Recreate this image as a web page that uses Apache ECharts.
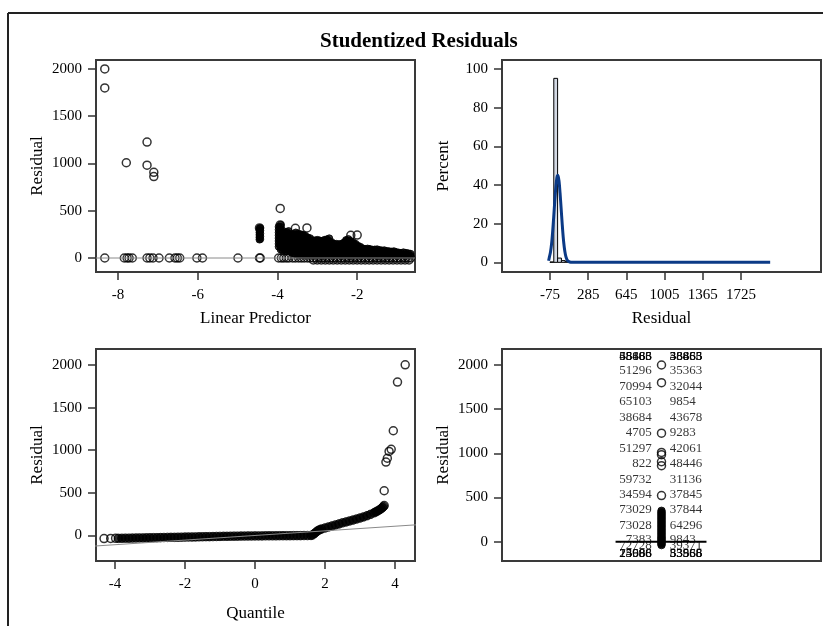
<!DOCTYPE html>
<html><head><meta charset="utf-8">
<script src="https://cdn.jsdelivr.net/npm/echarts@6/dist/echarts.min.js"></script>
<style>html,body{margin:0;padding:0;background:#fff}#c{width:823px;height:626px}</style>
</head><body><div id="c"></div>
<script>
const FONT = '"Liberation Serif","Times New Roman",serif';

// ---------- Panel 1: Residual vs Linear Predictor ----------
const tlTicksX = [-8, -6, -4, -2];
const tlTicksY = [0, 500, 1000, 1500, 2000];
const tlPoints = [[-8.33,2000],[-8.33,1800],[-8.33,0],[-7.79,1008],[-7.84,0],[-7.77,0],[-7.72,0],[-7.64,0],
  [-7.27,1227],[-7.27,982],[-7.27,0],[-7.2,0],[-7.12,0],[-7.1,907],[-7.1,862],[-6.97,0],
  [-6.71,0],[-6.57,0],[-6.51,0],[-6.45,0],[-6.02,0],[-5.88,0],[-4.99,0],[-4.45,0],[-4.43,0],
  [-3.93,525],[-3.93,350],[-3.55,315],[-3.26,318],[-2.16,240],[-2.0,243],[-4.45,318]];
const tlZeroX = [-3.97,-3.9,-3.84,-3.77,-3.71,-3.62,-3.55,-3.47,-3.4,-3.33,-3.25,-3.18,-3.1,-3.03,-2.96,-2.89,-2.82,-2.75,-2.68,-2.61,-2.54,-2.47,-2.4,-2.33,-2.26,-2.19,-2.12,-2.05,-1.98,-1.91,-1.84,-1.77,-1.7,-1.63,-1.56,-1.49,-1.42,-1.35,-1.28,-1.21,-1.14,-1.07,-1.0,-0.93,-0.86,-0.79,-0.72,-0.66];
const tlNegX = [-3.1,-3.0,-2.9,-2.8,-2.7,-2.6,-2.5,-2.4,-2.3,-2.2,-2.1,-2.0,-1.9,-1.8,-1.7,-1.6,-1.5,-1.4,-1.3,-1.2,-1.1,-1.0,-0.9,-0.8,-0.7];
const tlNegY = -20;
const tlColumns = [
  [-4.45,[195,220,245,270,295,312]],[-4.43,[200,230,260,290,318]],
  [-3.97,[120,150,180,210,240,270,300,330]],[-3.92,[90,120,150,180,210,240,270,300,330,350]],
  [-3.87,[80,110,140,170,200,230,260,290]],[-3.82,[90,120,150,180,210,240,265]],
  [-3.77,[70,100,130,160,190,220,250,275]],[-3.72,[80,110,140,170,200,230,260,285]],
  [-3.66,[60,90,120,150,180,210,240]],[-3.60,[50,80,110,140,170,200,230,255]],
  [-3.54,[40,70,100,130,160,190,220,250,270]],[-3.48,[35,65,95,125,155,185,215,245,258]],
  [-3.42,[30,60,90,120,150,180,210,240,252]],[-3.36,[30,60,90,120,150,180,210,240,246]],
  [-3.30,[30,60,90,120,150,180,210,235]],[-3.24,[30,60,90,120,150,180,210,218]],
  [-3.18,[30,60,90,120,150,180,210]],[-3.12,[30,60,90,120,150,180,188]],
  [-3.06,[30,60,90,120,150,180,186]],[-3.00,[30,60,90,120,150,180,192]],
  [-2.94,[30,60,90,120,150,180,186]],[-2.88,[30,60,90,120,150,180]],
  [-2.82,[30,60,90,120,150,180,192]],[-2.76,[30,60,90,120,150,180,198]],
  [-2.70,[30,60,90,120,150,180,208]],[-2.64,[30,60,90,120,150,168]],
  [-2.58,[30,60,90,120,150]],[-2.52,[30,60,90,120,150]],[-2.46,[30,60,90,120,146]],
  [-2.40,[30,60,90,120,150]],[-2.34,[30,60,90,120,150,162]],[-2.28,[30,60,90,120,150,180,190]],
  [-2.22,[30,60,90,120,150,180,200]],[-2.16,[30,60,90,120,150,180]],[-2.10,[30,60,90,120,150,165]],
  [-2.04,[30,60,90,120,150]],[-1.98,[30,60,90,120,130]],[-1.92,[30,60,90,118]],
  [-1.86,[30,60,90,102]],[-1.80,[30,60,90,96]],[-1.74,[30,60,90,100]],[-1.68,[30,60,90,95]],
  [-1.62,[30,60,88]],[-1.56,[30,60,90]],[-1.50,[30,60,92]],[-1.44,[30,60,85]],
  [-1.38,[30,60,80]],[-1.32,[30,60,82]],[-1.26,[30,60,75]],[-1.20,[30,60,72]],
  [-1.14,[30,60,68]],[-1.08,[30,60,72]],[-1.02,[30,60,62]],[-0.96,[30,58]],
  [-0.90,[30,55]],[-0.84,[30,60]],[-0.78,[30,55]],[-0.72,[30,50]],[-0.66,[25,45]]
];

// ---------- Panel 2: histogram of residuals ----------
const histTicksX = [-75, 285, 645, 1005, 1365, 1725];
const histTicksY = [0, 20, 40, 60, 80, 100];
const histBins = [[-75,-39,0.2],[-39,-3,95.2],[-3,33,2.2],[33,69,0.9],[69,105,0.4]];
const normCurve = [[-88,0.8],[-80,2.8],[-70,5.4],[-60,9.5],[-50,15.7],[-40,23.3],[-30,31.4],[-20,38.7],[-10,43.7],[0,45],
  [10,42.2],[20,35.9],[30,28.1],[40,20.1],[50,12.9],[60,7.7],[70,4.2],[80,2.1],[90,0.9],[110,0.2],[140,0],[2000,0]];

// ---------- Panel 3: Q-Q plot ----------
const qqTicksX = [-4, -2, 0, 2, 4];
const qqTicksY = [0, 500, 1000, 1500, 2000];
const qqRefLine = [[-4.6,-127],[4.6,123]];
const qqHollow = [[-4.31,-38],[-4.12,-37],[-3.98,-36],[3.69,523],[3.74,860],[3.78,905],[3.83,985],[3.89,1010],[3.95,1228],[4.07,1800],[4.29,2002],[3.69,350]];
const qqBand = [[-3.9,-36],[-3.8,-35],[-3.7,-34],[-3.6,-34],[-3.5,-33],[-3.4,-32],[-3.3,-31],[-3.2,-31],[-3.1,-30],[-3.0,-29],
  [-2.9,-28],[-2.8,-28],[-2.7,-27],[-2.6,-26],[-2.5,-25],[-2.4,-24],[-2.3,-24],[-2.2,-23],[-2.1,-22],[-2.0,-21],
  [-1.9,-20],[-1.8,-20],[-1.7,-19],[-1.6,-18],[-1.5,-17],[-1.4,-16],[-1.3,-16],[-1.2,-15],[-1.1,-14],[-1.0,-13],
  [-0.9,-12],[-0.8,-12],[-0.7,-11],[-0.6,-10],[-0.5,-10],[-0.4,-9],[-0.3,-9],[-0.2,-8],[-0.1,-8],[0,-7],
  [0.1,-7],[0.2,-7],[0.3,-6],[0.4,-6],[0.5,-6],[0.6,-6],[0.7,-5],[0.8,-5],[0.9,-5],[1.0,-5],
  [1.1,-4],[1.2,-4],[1.3,-4],[1.4,-3],[1.5,-3],[1.6,-2],[1.65,5],[1.7,22],[1.75,40],[1.8,55],
  [1.85,66],[1.9,74],[2.0,86],[2.1,98],[2.2,110],[2.3,122],[2.4,134],[2.5,146],[2.6,157],[2.7,168],
  [2.8,179],[2.9,191],[3.0,203],[3.1,216],[3.2,230],[3.3,246],[3.4,264],[3.45,275],[3.5,286],[3.55,298],
  [3.6,312],[3.64,325],[3.67,338]];

// ---------- Panel 4: labelled residual box plot ----------
const brTicksY = [0, 500, 1000, 1500, 2000];
const brOutliers = [2000, 1800, 1228, 1010, 985, 905, 860, 523];
const brColumn = [-38,-25,-12,0,12,25,38,50,65,80,95,110,125,140,155,170,185,200,215,230,245,260,275,290,305,320,335,350];
const brMedianLine = [[-0.288,0],[0.282,0]];
const brLabelY = [1933, 1755, 1582, 1404, 1231, 1053, 883, 707, 537, 359, 186, 19, -45];
const brLeftIds = ['51296','70994','65103','38684','4705','51297','822','59732','34594','73029','73028','7383','72728'];
const brRightIds = ['35363','32044','9854','43678','9283','42061','48446','31136','37845','37844','64296','9843','39371'];
const brTopGarbleY = 2100, brBotGarbleY = -138;
const brTopLeftGarble = ['58466','38683','45885','65168'];
const brTopRightGarble = ['48683','36465','58866','33853'];
const brBotLeftGarble = ['24588','15066','23988','75696'];
const brBotRightGarble = ['55865','33586','53558','83968'];
const brLabelX = [-0.061, 0.052];

// ---------- build ----------
const AX = '#333';
const plain = v => String(v);
function xA(grid, min, max, ticks, name, gap, show = true) {
  return {
    type: 'value', gridIndex: grid, min, max, position: 'bottom',
    axisLine: { show: false, onZero: false },
    axisTick: { show: show, length: 8, customValues: ticks, lineStyle: { color: AX, width: 1.5 } },
    axisLabel: { show: show, customValues: ticks, formatter: plain, margin: 16, color: '#000', fontFamily: FONT, fontSize: 15 },
    splitLine: { show: false },
    name, nameLocation: 'middle', nameGap: gap,
    nameTextStyle: { color: '#000', fontFamily: FONT, fontSize: 17 }
  };
}
function yA(grid, min, max, ticks, name) {
  return {
    type: 'value', gridIndex: grid, min, max, position: 'left',
    axisLine: { show: false, onZero: false },
    axisTick: { show: true, length: 8, customValues: ticks, lineStyle: { color: AX, width: 1.5 } },
    axisLabel: { customValues: ticks, formatter: plain, margin: 14, color: '#000', fontFamily: FONT, fontSize: 15 },
    splitLine: { show: false },
    name, nameLocation: 'middle', nameGap: 50, nameRotate: 90,
    nameTextStyle: { color: '#000', fontFamily: FONT, fontSize: 17 }
  };
}
const hollow = { color: 'rgba(0,0,0,0)', borderColor: '#000', borderWidth: 1.5 };
const filled = { color: '#000', borderColor: '#000', borderWidth: 1 };
function sc(x, y, data, style, size = 8) {
  return { type: 'scatter', xAxisIndex: x, yAxisIndex: y, data, symbol: 'circle', symbolSize: size, itemStyle: style, silent: true };
}
function labels(ids, ys, x, pos) {
  return {
    type: 'scatter', xAxisIndex: 3, yAxisIndex: 3, symbolSize: 0, silent: true,
    data: ids.map((id, i) => ({ value: [x, Array.isArray(ys) ? ys[i] : ys], name: id })),
    label: { show: true, position: pos, distance: 0, formatter: '{b}', color: '#000', fontFamily: FONT, fontSize: 13 }
  };
}

const tlDense = tlColumns.flatMap(([x, ys]) => ys.map(y => [x, y]));
const grids = [
  { left: 96, top: 60, width: 319, height: 212 },
  { left: 502, top: 60, width: 319, height: 212 },
  { left: 96, top: 349, width: 319, height: 212 },
  { left: 502, top: 349, width: 319, height: 212 }
].map(g => Object.assign(g, { show: true, borderColor: '#3a3a3a', borderWidth: 2, backgroundColor: 'transparent' }));

const option = {
  animation: false,
  backgroundColor: '#fff',
  title: { text: 'Studentized Residuals', left: 320, top: 31, padding: 0,
    textStyle: { fontFamily: FONT, fontSize: 21, fontWeight: 'bold', color: '#000' } },
  graphic: [
    { type: 'line', shape: { x1: 8, y1: 13, x2: 823, y2: 13 }, style: { stroke: '#222', lineWidth: 2 } },
    { type: 'line', shape: { x1: 8, y1: 13, x2: 8, y2: 626 }, style: { stroke: '#222', lineWidth: 2 } }
  ],
  grid: grids,
  xAxis: [
    xA(0, -8.55, -0.55, tlTicksX, 'Linear Predictor', 38),
    xA(1, -527, 2479, histTicksX, 'Residual', 38),
    xA(2, -4.54, 4.57, qqTicksX, 'Quantile', 44),
    xA(3, -1, 1, [], '', 38, false)
  ],
  yAxis: [
    yA(0, -148, 2095, tlTicksY, 'Residual'),
    yA(1, -5, 104.7, histTicksY, 'Percent'),
    yA(2, -302, 2188, qqTicksY, 'Residual'),
    yA(3, -218, 2181, brTicksY, 'Residual')
  ],
  series: [
    // panel 1
    { type: 'line', xAxisIndex: 0, yAxisIndex: 0, data: [[-8.55,0],[-0.55,0]], showSymbol: false, silent: true,
      lineStyle: { color: '#8a8a8a', width: 1 } },
    sc(0, 0, tlPoints, hollow),
    sc(0, 0, tlZeroX.map(x => [x, 0]), hollow),
    sc(0, 0, tlNegX.map(x => [x, tlNegY]), hollow),
    sc(0, 0, tlDense, filled, 7),
    // panel 2
    { type: 'custom', xAxisIndex: 1, yAxisIndex: 1, data: histBins, silent: true,
      encode: { x: [0, 1], y: 2 },
      renderItem: (params, api) => {
        const p0 = api.coord([api.value(0), api.value(2)]);
        const p1 = api.coord([api.value(1), 0]);
        return { type: 'rect', shape: { x: p0[0], y: p0[1], width: p1[0] - p0[0], height: p1[1] - p0[1] },
          style: { fill: '#d3d9e4', stroke: '#000', lineWidth: 1 } };
      } },
    { type: 'line', xAxisIndex: 1, yAxisIndex: 1, data: normCurve, showSymbol: false, smooth: 0.3, silent: true,
      lineStyle: { color: '#0b3a86', width: 3 } },
    // panel 3
    { type: 'line', xAxisIndex: 2, yAxisIndex: 2, data: qqRefLine, showSymbol: false, silent: true,
      lineStyle: { color: '#8a8a8a', width: 1 } },
    sc(2, 2, qqBand, filled, 8.5),
    sc(2, 2, qqHollow, hollow),
    // panel 4
    sc(3, 3, brOutliers.map(y => [0, y]), hollow),
    sc(3, 3, brColumn.map(y => [0, y]), filled, 7.5),
    labels(brLeftIds, brLabelY, brLabelX[0], 'left'),
    labels(brRightIds, brLabelY, brLabelX[1], 'right'),
    labels(brTopLeftGarble, brTopGarbleY, brLabelX[0], 'left'),
    labels(brTopRightGarble, brTopGarbleY, brLabelX[1], 'right'),
    labels(brBotLeftGarble, brBotGarbleY, brLabelX[0], 'left'),
    labels(brBotRightGarble, brBotGarbleY, brLabelX[1], 'right'),
    { type: 'line', xAxisIndex: 3, yAxisIndex: 3, data: brMedianLine, showSymbol: false, silent: true,
      lineStyle: { color: '#000', width: 2 } }
  ]
};
const chart = echarts.init(document.getElementById('c'));
chart.setOption(option);
</script></body></html>
